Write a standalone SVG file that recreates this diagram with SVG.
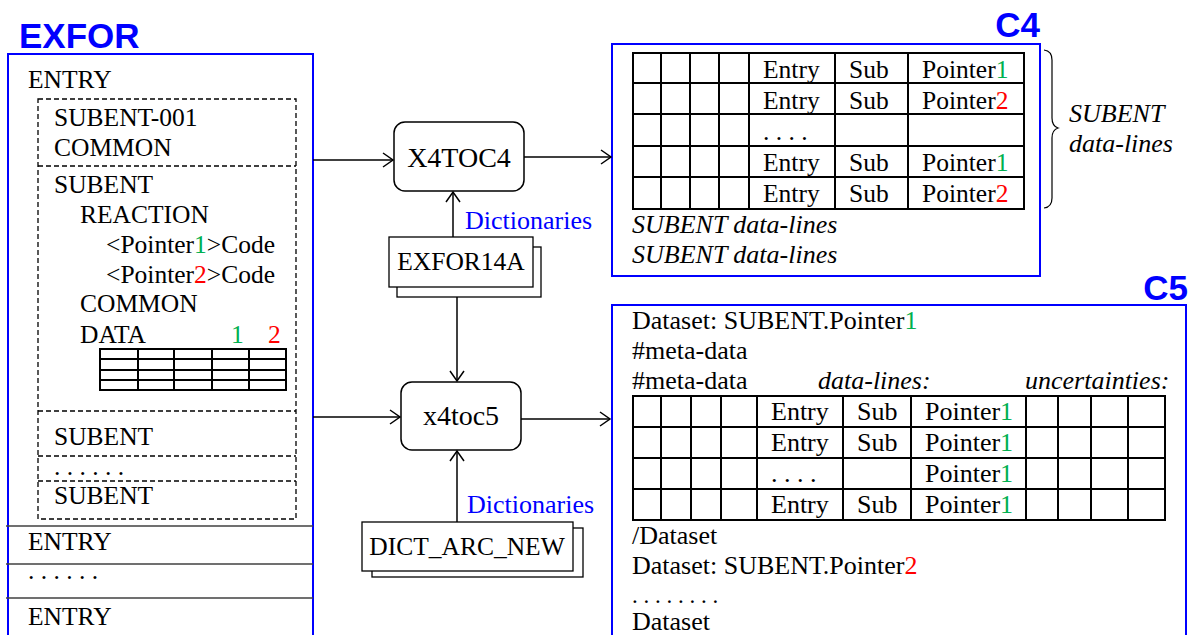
<svg xmlns="http://www.w3.org/2000/svg" width="1188" height="635" viewBox="0 0 1188 635">
<defs>
<marker id="arr" markerUnits="userSpaceOnUse" markerWidth="14" markerHeight="16" refX="11" refY="8" orient="auto">
<path d="M1,1 L11,8 L1,15" fill="none" stroke="#000" stroke-width="1.5"/>
</marker>
</defs>
<style>
text{font-family:"Liberation Serif","Times New Roman",serif;font-size:25.5px;fill:#000}
.title{font-family:"Liberation Sans",Arial,sans-serif;font-weight:bold;font-size:35px;fill:#0000FF}
.blue{fill:#0000FF;font-size:26px}
.g{fill:#00B050}
.r{fill:#FF0000}
.it{font-style:italic}
.c5{font-size:26px}
.frame{fill:none;stroke:#0000FF;stroke-width:2}
.dash{fill:none;stroke:#000;stroke-width:1.3;stroke-dasharray:5,3}
.grid{fill:none;stroke:#000;stroke-width:2}
.sep{stroke:#404040;stroke-width:1.6}
.proc{fill:#fff;stroke:#000;stroke-width:1.5}
.file{fill:#fff;stroke:#000;stroke-width:1.3}
.conn{fill:none;stroke:#000;stroke-width:1.5}
.mid{text-anchor:middle}
</style>

<g id="EXFOR">
<text class="title" x="19" y="48">EXFOR</text>
<rect class="frame" x="8" y="54" width="305" height="620"/>
<text x="28" y="88">ENTRY</text>
<rect class="dash" x="38" y="99" width="258" height="420"/>
<line class="dash" x1="38" y1="166" x2="296" y2="166"/>
<line class="dash" x1="38" y1="411" x2="296" y2="411"/>
<line class="dash" x1="38" y1="456" x2="296" y2="456"/>
<line class="dash" x1="38" y1="481" x2="296" y2="481"/>
<text x="54" y="126">SUBENT-001</text>
<text x="54" y="156">COMMON</text>
<text x="54" y="193">SUBENT</text>
<text x="80" y="223">REACTION</text>
<text x="106" y="253">&lt;Pointer<tspan class="g">1</tspan>&gt;Code</text>
<text x="106" y="283">&lt;Pointer<tspan class="r">2</tspan>&gt;Code</text>
<text x="80" y="312">COMMON</text>
<text x="80" y="343">DATA</text>
<text class="g" x="231" y="343">1</text>
<text class="r" x="268" y="343">2</text>
<rect class="grid" x="100" y="349" width="186" height="41"/>
<line class="grid" x1="100" y1="359" x2="286" y2="359"/>
<line class="grid" x1="100" y1="370" x2="286" y2="370"/>
<line class="grid" x1="100" y1="380" x2="286" y2="380"/>
<line class="grid" x1="138" y1="349" x2="138" y2="390"/>
<line class="grid" x1="174" y1="349" x2="174" y2="390"/>
<line class="grid" x1="212" y1="349" x2="212" y2="390"/>
<line class="grid" x1="249" y1="349" x2="249" y2="390"/>
<text x="54" y="445">SUBENT</text>
<text x="54" y="475">. . . . . .</text>
<text x="54" y="504">SUBENT</text>
<line class="sep" x1="6" y1="526" x2="313" y2="526"/>
<line class="sep" x1="6" y1="564" x2="313" y2="564"/>
<line class="sep" x1="6" y1="598" x2="313" y2="598"/>
<text x="28" y="550">ENTRY</text>
<text x="28" y="579">. . . . . .</text>
<text x="28" y="625">ENTRY</text>
</g>

<g id="X4TOC4">
<rect class="proc" x="394" y="122" width="130" height="69" rx="11"/>
<text class="mid" x="459" y="167" style="font-size:28px">X4TOC4</text>
</g>

<g id="EXFOR14A">
<rect class="file" x="397" y="247" width="144" height="50"/>
<rect class="file" x="389" y="237" width="144" height="50"/>
<text class="mid" x="461" y="270">EXFOR14A</text>
</g>

<g id="x4toc5">
<rect class="proc" x="401" y="382" width="120" height="68" rx="11"/>
<text class="mid" x="461" y="425" style="font-size:28px">x4toc5</text>
</g>

<g id="DICT_ARC_NEW">
<rect class="file" x="372" y="528" width="211" height="49"/>
<rect class="file" x="362" y="522" width="211" height="49"/>
<text class="mid" x="467" y="555">DICT_ARC_NEW</text>
</g>

<g id="C4">
<text class="title" x="1040" y="37" text-anchor="end">C4</text>
<rect class="frame" x="612" y="44" width="428" height="232"/>
<rect class="grid" x="633" y="53" width="391" height="156"/>
<line class="grid" x1="633" y1="83" x2="1024" y2="83"/>
<line class="grid" x1="633" y1="114" x2="1024" y2="114"/>
<line class="grid" x1="633" y1="146" x2="1024" y2="146"/>
<line class="grid" x1="633" y1="177" x2="1024" y2="177"/>
<line class="grid" x1="661" y1="53" x2="661" y2="209"/>
<line class="grid" x1="690" y1="53" x2="690" y2="209"/>
<line class="grid" x1="719" y1="53" x2="719" y2="209"/>
<line class="grid" x1="749" y1="53" x2="749" y2="209"/>
<line class="grid" x1="835" y1="53" x2="835" y2="209"/>
<line class="grid" x1="908" y1="53" x2="908" y2="209"/>
<text x="763" y="78">Entry</text><text x="849" y="78">Sub</text><text x="922" y="78">Pointer<tspan class="g">1</tspan></text>
<text x="763" y="109">Entry</text><text x="849" y="109">Sub</text><text x="922" y="109">Pointer<tspan class="r">2</tspan></text>
<text x="763" y="140">. . . .</text>
<text x="763" y="171">Entry</text><text x="849" y="171">Sub</text><text x="922" y="171">Pointer<tspan class="g">1</tspan></text>
<text x="763" y="202">Entry</text><text x="849" y="202">Sub</text><text x="922" y="202">Pointer<tspan class="r">2</tspan></text>
<text class="it c5" x="632" y="233">SUBENT data-lines</text>
<text class="it c5" x="632" y="263">SUBENT data-lines</text>
<path d="M1044,50 Q1052,51 1052,60 L1052,118 Q1052,126 1058,128 Q1052,130 1052,138 L1052,198 Q1052,207 1044,208" fill="none" stroke="#000" stroke-width="1.2"/>
<text class="it c5" x="1069" y="122">SUBENT</text>
<text class="it c5" x="1069" y="152">data-lines</text>
</g>

<g id="C5">
<text class="title" x="1188" y="300" text-anchor="end">C5</text>
<rect class="frame" x="612" y="305" width="574" height="360"/>
<text class="c5" x="632" y="329">Dataset: SUBENT.Pointer<tspan class="g">1</tspan></text>
<text class="c5" x="632" y="359">#meta-data</text>
<text class="c5" x="632" y="389">#meta-data</text>
<text class="it c5" x="818" y="389">data-lines:</text>
<text class="it c5" x="1025" y="389">uncertainties:</text>
<rect class="grid" x="633" y="396" width="532" height="124"/>
<line class="grid" x1="633" y1="427" x2="1165" y2="427"/>
<line class="grid" x1="633" y1="458" x2="1165" y2="458"/>
<line class="grid" x1="633" y1="489" x2="1165" y2="489"/>
<line class="grid" x1="661" y1="396" x2="661" y2="520"/>
<line class="grid" x1="691" y1="396" x2="691" y2="520"/>
<line class="grid" x1="721" y1="396" x2="721" y2="520"/>
<line class="grid" x1="757" y1="396" x2="757" y2="520"/>
<line class="grid" x1="843" y1="396" x2="843" y2="520"/>
<line class="grid" x1="911" y1="396" x2="911" y2="520"/>
<line class="grid" x1="1026" y1="396" x2="1026" y2="520"/>
<line class="grid" x1="1058" y1="396" x2="1058" y2="520"/>
<line class="grid" x1="1091" y1="396" x2="1091" y2="520"/>
<line class="grid" x1="1128" y1="396" x2="1128" y2="520"/>
<text class="c5" x="771" y="420">Entry</text><text class="c5" x="857" y="420">Sub</text><text class="c5" x="925" y="420">Pointer<tspan class="g">1</tspan></text>
<text class="c5" x="771" y="451">Entry</text><text class="c5" x="857" y="451">Sub</text><text class="c5" x="925" y="451">Pointer<tspan class="g">1</tspan></text>
<text class="c5" x="771" y="482">. . . .</text><text class="c5" x="925" y="482">Pointer<tspan class="g">1</tspan></text>
<text class="c5" x="771" y="513">Entry</text><text class="c5" x="857" y="513">Sub</text><text class="c5" x="925" y="513">Pointer<tspan class="g">1</tspan></text>
<text class="c5" x="632" y="544">/Dataset</text>
<text class="c5" x="632" y="574">Dataset: SUBENT.Pointer<tspan class="r">2</tspan></text>
<text x="632" y="603" style="font-size:23px">. . . . . . . .</text>
<text class="c5" x="632" y="630">Dataset</text>
</g>

<g id="connectors">
<line class="conn" x1="313" y1="160" x2="393" y2="160" marker-end="url(#arr)"/>
<line class="conn" x1="524" y1="157" x2="611" y2="157" marker-end="url(#arr)"/>
<line class="conn" x1="453" y1="237" x2="453" y2="192" marker-end="url(#arr)"/>
<line class="conn" x1="457" y1="297" x2="457" y2="381" marker-end="url(#arr)"/>
<line class="conn" x1="313" y1="417" x2="400" y2="417" marker-end="url(#arr)"/>
<line class="conn" x1="521" y1="419" x2="610" y2="419" marker-end="url(#arr)"/>
<line class="conn" x1="457" y1="522" x2="457" y2="451" marker-end="url(#arr)"/>
<text class="blue" x="465" y="229">Dictionaries</text>
<text class="blue" x="467" y="513">Dictionaries</text>
</g>
</svg>
